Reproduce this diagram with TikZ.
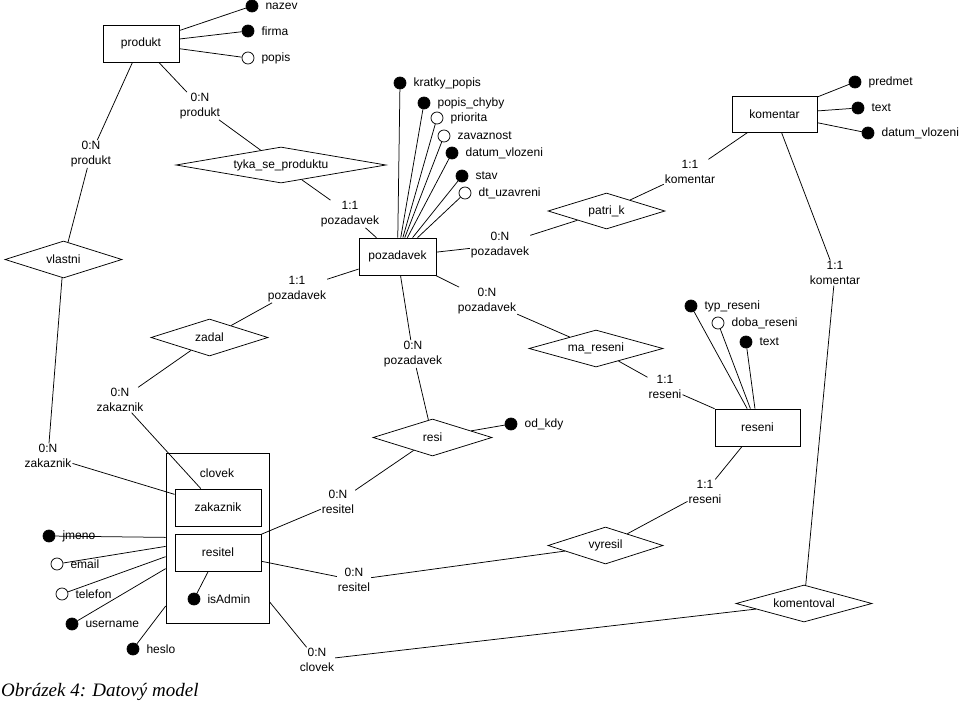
\documentclass[tikz,border=0pt]{standalone}
\usepackage{fontspec}
\setmainfont{Liberation Sans}
\newfontfamily\capfont{Liberation Serif}
\usetikzlibrary{shapes.geometric,positioning}
\begin{document}
\begin{tikzpicture}[x=1pt,y=-1pt,
  every node/.style={font=\fontsize{12}{14.5}\selectfont},
  entity/.style={draw, rectangle, inner sep=0, line width=0.75pt},
  rel/.style={draw, diamond, aspect=5, inner sep=0, line width=0.75pt},
  card/.style={align=center, inner sep=1pt},
  attf/.style={circle, draw, fill=black, minimum size=12pt, inner sep=0, line width=0.75pt},
  atto/.style={circle, draw, fill=white, minimum size=12pt, inner sep=0, line width=0.75pt},
  alab/.style={inner sep=0},
  conn/.style={line width=0.75pt}]
\fill[white] (0,0) rectangle (959,704);
\useasboundingbox (0,0) rectangle (959,704);

% entities
\node[entity, minimum width=76pt, minimum height=37pt] (produkt) at (141,43.5) {produkt};
\node[entity, minimum width=77pt, minimum height=37pt] (pozadavek) at (397.5,256.5) {pozadavek};
\node[entity, minimum width=85pt, minimum height=36pt] (komentar) at (774.5,114) {komentar};
\node[entity, minimum width=85pt, minimum height=37pt] (reseni) at (757.5,427.5) {reseni};
\node[entity, minimum width=103pt, minimum height=170pt] (clovek) at (217.5,538) {};
\node (clovektxt) at (217,473) {clovek};
\node[entity, minimum width=86pt, minimum height=37pt] (zakaznik) at (218,507.5) {zakaznik};
\node[entity, minimum width=86pt, minimum height=37pt] (resitel) at (218,552.5) {resitel};

% relationships
\node[rel, minimum width=210pt, minimum height=36pt] (tyka) at (281,165) {tyka\_se\_produktu};
\node[rel, minimum width=117pt, minimum height=37pt] (vlastni) at (63.5,259.5) {vlastni};
\node[rel, minimum width=117pt, minimum height=36pt] (patrik) at (606.5,211) {patri\_k};
\node[rel, minimum width=117pt, minimum height=37pt] (zadal) at (209.5,337.5) {zadal};
\node[rel, minimum width=134pt, minimum height=37pt] (mareseni) at (596,348.5) {ma\_reseni};
\node[rel, minimum width=119pt, minimum height=37pt] (resi) at (432.5,437.5) {resi};
\node[rel, minimum width=115pt, minimum height=37pt] (vyresil) at (605.5,545.5) {vyresil};
\node[rel, minimum width=136pt, minimum height=37pt] (komentoval) at (804,603.5) {komentoval};

% cardinality labels
\node[card] (l1) at (200,106) {0:N\\produkt};
\node[card] (l2) at (350,214) {1:1\\pozadavek};
\node[card] (l3) at (91,154) {0:N\\produkt};
\node[card] (l4) at (48,456) {0:N\\zakaznik};
\node[card] (l5) at (297,289) {1:1\\pozadavek};
\node[card] (l6) at (120,400) {0:N\\zakaznik};
\node[card] (l7) at (500,245) {0:N\\pozadavek};
\node[card] (l8) at (690,172) {1:1\\komentar};
\node[card] (l9) at (487,301) {0:N\\pozadavek};
\node[card] (l10) at (665,387) {1:1\\reseni};
\node[card] (l11) at (413,354) {0:N\\pozadavek};
\node[card] (l12) at (338,502) {0:N\\resitel};
\node[card] (l13) at (354,580) {0:N\\resitel};
\node[card] (l14) at (705,492) {1:1\\reseni};
\node[card] (l15) at (317,660) {0:N\\clovek};
\node[card] (l16) at (835,273) {1:1\\komentar};

% attributes
\node[attf] (a1) at (252,6) {};   \node[alab, right=7pt of a1] {nazev};
\node[attf] (a2) at (248,31) {};  \node[alab, right=7pt of a2] {firma};
\node[atto] (a3) at (248,58) {};  \node[alab, right=7pt of a3] {popis};
\node[attf] (b1) at (400,83) {};  \node[alab, right=7pt of b1] {kratky\_popis};
\node[attf] (b2) at (424,103) {}; \node[alab, right=7pt of b2] {popis\_chyby};
\node[atto] (b3) at (437,118) {}; \node[alab, right=7pt of b3] {priorita};
\node[atto] (b4) at (444,136) {}; \node[alab, right=7pt of b4] {zavaznost};
\node[attf] (b5) at (452,153) {}; \node[alab, right=7pt of b5] {datum\_vlozeni};
\node[attf] (b6) at (462,176) {}; \node[alab, right=7pt of b6] {stav};
\node[atto] (b7) at (465,193) {}; \node[alab, right=7pt of b7] {dt\_uzavreni};
\node[attf] (c1) at (855,82) {};  \node[alab, right=7pt of c1] {predmet};
\node[attf] (c2) at (858,108) {}; \node[alab, right=7pt of c2] {text};
\node[attf] (c3) at (868,133) {}; \node[alab, right=7pt of c3] {datum\_vlozeni};
\node[attf] (d1) at (691,306) {}; \node[alab, right=7pt of d1] {typ\_reseni};
\node[atto] (d2) at (718,323) {}; \node[alab, right=7pt of d2] {doba\_reseni};
\node[attf] (d3) at (746,342) {}; \node[alab, right=7pt of d3] {text};
\node[attf] (e1) at (511,424) {}; \node[alab, right=7pt of e1] {od\_kdy};
\node[attf] (f1) at (49,536) {};  \node[alab, right=7pt of f1] {jmeno};
\node[atto] (f2) at (57,564) {};  \node[alab, right=7pt of f2] {email};
\node[atto] (f3) at (62,594) {};  \node[alab, right=7pt of f3] {telefon};
\node[attf] (f4) at (72,624) {};  \node[alab, right=7pt of f4] {username};
\node[attf] (f5) at (133,649) {}; \node[alab, right=7pt of f5] {heslo};
\node[attf] (g1) at (194,599) {}; \node[alab, right=7pt of g1] {isAdmin};

% attribute lines
\foreach \a in {a1,a2,a3} \draw[conn] (produkt) -- (\a);
\foreach \a in {b1,b2,b3,b4,b5,b6,b7} \draw[conn] (pozadavek) -- (\a);
\foreach \a in {c1,c2,c3} \draw[conn] (komentar) -- (\a);
\foreach \a in {d1,d2,d3} \draw[conn] (reseni) -- (\a);
\foreach \a in {f1,f2,f3,f4,f5} \draw[conn] (clovek) -- (\a);
\draw[conn] (resi) -- (e1);
\draw[conn] (resitel) -- (g1);

% relationship connectors
\draw[conn] (produkt) -- (l1) -- (tyka);
\draw[conn] (tyka) -- (l2) -- (pozadavek);
\draw[conn] (produkt) -- (l3) -- (vlastni);
\draw[conn] (vlastni) -- (l4) -- (zakaznik);
\draw[conn] (pozadavek) -- (l5) -- (zadal);
\draw[conn] (zadal) -- (l6) -- (zakaznik);
\draw[conn] (pozadavek) -- (l7) -- (patrik);
\draw[conn] (patrik) -- (l8) -- (komentar);
\draw[conn] (pozadavek) -- (l9) -- (mareseni);
\draw[conn] (mareseni) -- (l10) -- (reseni);
\draw[conn] (pozadavek) -- (l11) -- (resi);
\draw[conn] (resi) -- (l12) -- (resitel);
\draw[conn] (resitel) -- (l13) -- (vyresil);
\draw[conn] (vyresil) -- (l14) -- (reseni);
\draw[conn] (clovek) -- (l15) -- (komentoval);
\draw[conn] (komentar) -- (l16) -- (komentoval);

% caption
\node[anchor=base west, inner sep=0, font=\capfont\itshape\fontsize{19}{22}\selectfont] (caption) at (1,696) {Obrázek 4: Datový model};
\end{tikzpicture}
\end{document}
